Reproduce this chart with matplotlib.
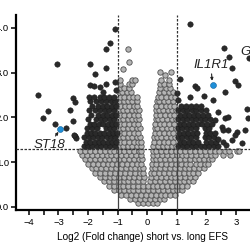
import numpy as np
import matplotlib.pyplot as plt
from matplotlib import font_manager

# grey (not significant) points, written row by row: (log10 p, [log2 fold changes])
gray_below_rows = [
    (0.08, [-0.30, -0.14, 0.02, 0.18, 0.33]),
    (0.17, [-0.58, -0.42, -0.25, -0.08, 0.09, 0.26, 0.42, 0.57]),
    (0.27, [-0.88, -0.72, -0.55, -0.38, -0.22, -0.05, 0.12, 0.28, 0.45, 0.61, 0.78, 0.92]),
    (0.37, [-1.12, -0.96, -0.80, -0.63, -0.47, -0.30, -0.14, 0.03, 0.20, 0.36, 0.53, 0.70, 0.86, 1.02, 1.16]),
    (0.47, [-1.30, -1.14, -0.97, -0.81, -0.64, -0.48, -0.31, -0.15, 0.01, 0.18, 0.34, 0.51, 0.67, 0.84,
            1.00, 1.17, 1.33]),
    (0.57, [-1.46, -1.30, -1.13, -0.97, -0.80, -0.64, -0.47, -0.31, -0.14, 0.10, 0.26, 0.43, 0.59, 0.76,
            0.92, 1.09, 1.25, 1.42, 1.55]),
    (0.67, [-1.60, -1.44, -1.27, -1.11, -0.94, -0.78, -0.61, -0.45, -0.28, -0.12, 0.13, 0.29, 0.46, 0.62,
            0.79, 0.95, 1.12, 1.28, 1.45, 1.62]),
    (0.77, [-1.75, -1.58, -1.42, -1.25, -1.09, -0.92, -0.76, -0.59, -0.43, -0.26, -0.14, 0.14, 0.24, 0.41,
            0.57, 0.74, 0.90, 1.07, 1.23, 1.40, 1.56, 1.73]),
    (0.87, [-1.88, -1.72, -1.55, -1.39, -1.22, -1.06, -0.89, -0.73, -0.56, -0.40, -0.24, -0.15, 0.15, 0.27,
            0.43, 0.60, 0.76, 0.93, 1.09, 1.26, 1.42, 1.59, 1.75, 1.90]),
    (0.97, [-2.00, -1.84, -1.67, -1.51, -1.34, -1.18, -1.01, -0.85, -0.68, -0.52, -0.35, -0.20, 0.17, 0.31,
            0.47, 0.64, 0.80, 0.97, 1.13, 1.30, 1.46, 1.63, 1.79, 1.96, 2.05]),
    (1.07, [-2.10, -1.94, -1.77, -1.61, -1.44, -1.28, -1.11, -0.95, -0.78, -0.62, -0.45, -0.29, -0.18, 0.18,
            0.28, 0.44, 0.61, 0.77, 0.94, 1.10, 1.27, 1.43, 1.60, 1.76, 1.93, 2.09, 2.18]),
    (1.17, [-2.20, -2.03, -1.87, -1.70, -1.54, -1.37, -1.21, -1.04, -0.88, -0.71, -0.55, -0.38, -0.22, 0.19,
            0.33, 0.50, 0.66, 0.83, 0.99, 1.16, 1.32, 1.49, 1.65, 1.82, 1.98, 2.15, 2.29, 2.55, 2.78]),
    (1.26, [-2.26, -2.10, -1.93, -1.77, -1.60, -1.44, -1.27, -1.11, -0.94, -0.78, -0.61, -0.45, -0.28, -0.20,
            0.21, 0.30, 0.46, 0.63, 0.79, 0.96, 1.12, 1.29, 1.45, 1.62, 1.78, 1.95, 2.11, 2.28, 2.42,
            2.62, 2.75, 3.02, 3.10]),
]
gray_between_rows = [
    (1.36, [-0.97, -0.82, -0.66, -0.50, -0.35, -0.21, 0.21, 0.36, 0.52, 0.67, 0.83, 0.96]),
    (1.46, [-0.93, -0.77, -0.61, -0.45, -0.30, -0.22, 0.23, 0.39, 0.55, 0.71, 0.87]),
    (1.56, [-0.97, -0.82, -0.66, -0.50, -0.36, -0.23, 0.24, 0.32, 0.48, 0.63, 0.79, 0.95]),
    (1.66, [-0.93, -0.77, -0.61, -0.45, -0.30, 0.25, 0.40, 0.56, 0.72, 0.88]),
    (1.76, [-0.97, -0.82, -0.66, -0.50, -0.36, -0.25, 0.26, 0.34, 0.49, 0.65, 0.81, 0.96]),
    (1.86, [-0.93, -0.77, -0.61, -0.45, -0.30, 0.27, 0.42, 0.58, 0.74, 0.89]),
    (1.96, [-0.97, -0.82, -0.66, -0.51, -0.37, -0.27, 0.28, 0.36, 0.51, 0.67, 0.83, 0.96]),
    (2.06, [-0.93, -0.77, -0.61, -0.46, -0.32, 0.29, 0.44, 0.60, 0.76, 0.90]),
    (2.16, [-0.97, -0.82, -0.67, -0.52, -0.38, -0.29, 0.30, 0.38, 0.53, 0.69, 0.85, 0.96]),
    (2.26, [-0.92, -0.76, -0.60, -0.45, -0.33, 0.31, 0.46, 0.62, 0.78, 0.91]),
    (2.36, [-0.96, -0.80, -0.64, -0.50, -0.35, 0.32, 0.40, 0.55, 0.71, 0.87]),
    (2.46, [-0.93, -0.77, -0.62, -0.47, -0.36, 0.36, 0.48, 0.63, 0.79, 0.92]),
    (2.56, [-0.97, -0.84, -0.70, -0.55, 0.40, 0.57, 0.72, 0.86]),
    (2.66, [-0.93, -0.78, -0.62, 0.44, 0.63, 0.78]),
    (2.75, [-0.91, -0.63, -0.50, 0.44, 0.55, 0.72]),
    (2.83, [-0.91, -0.52, -0.40, 0.48, 0.72]),
]
gray_top_x = [-0.82, -0.61, -0.66, 0.44, 0.61, 0.81]
gray_top_y = [3.08, 3.24, 3.54, 3.02, 2.95, 3.01]

# dark (significant) points
dark_left_rows = [
    (1.36, [-2.15, -2.00, -1.85, -1.70, -1.55, -1.40, -1.25, -1.10]),
    (1.46, [-2.08, -1.93, -1.78, -1.63, -1.48, -1.33, -1.18, -1.04]),
    (1.56, [-2.12, -1.97, -1.82, -1.67, -1.52, -1.37, -1.22, -1.08]),
    (1.66, [-2.05, -1.90, -1.75, -1.60, -1.45, -1.30, -1.15, -1.03]),
    (1.76, [-2.02, -1.86, -1.71, -1.41, -1.26, -1.11]),
    (1.86, [-1.95, -1.79, -1.64, -1.49, -1.34, -1.19, -1.05]),
    (1.96, [-2.00, -1.72, -1.57, -1.42, -1.27, -1.12]),
    (2.06, [-1.90, -1.65, -1.50, -1.35, -1.20, -1.06]),
    (2.16, [-1.98, -1.78, -1.58, -1.43, -1.28, -1.13]),
    (2.26, [-1.85, -1.66, -1.51, -1.36, -1.18, -1.04]),
    (2.36, [-1.95, -1.72, -1.55, -1.40, -1.22, -1.08]),
    (2.46, [-1.98, -1.80, -1.60, -1.45, -1.30, -1.12]),
]
dark_right_rows = [
    (1.36, [1.05, 1.20, 1.35, 1.50, 1.65, 1.80, 1.95, 2.10, 2.25, 2.40]),
    (1.46, [1.10, 1.25, 1.40, 1.55, 1.70, 2.00, 2.15, 2.32]),
    (1.56, [1.04, 1.19, 1.34, 1.49, 1.64, 1.94, 2.09, 2.24]),
    (1.66, [1.08, 1.23, 1.38, 1.53, 1.68, 1.98, 2.13, 2.30]),
    (1.76, [1.03, 1.18, 1.33, 1.48, 1.63, 1.95, 2.10]),
    (1.86, [1.10, 1.25, 1.40, 1.55, 1.70, 1.85, 2.02, 2.20]),
    (1.96, [1.05, 1.20, 1.35, 1.50, 1.65, 1.80, 1.95, 2.12]),
    (2.06, [1.12, 1.27, 1.42, 1.57, 1.72, 1.88, 2.05]),
    (2.16, [1.05, 1.20, 1.35, 1.50, 1.66, 1.82, 2.00]),
    (2.26, [1.15, 1.32, 1.48, 1.63, 1.80]),
]
dark_scatter_x = [-3.70, -3.34, -3.52, -3.12, -2.74, -2.50, -2.45, -2.62, -2.52, -2.45, -2.42, -2.49,
                  -1.93, -1.79, -1.61, -1.39, -1.10, -1.76, -1.38, -1.93, -3.06, -1.38, -1.27, -1.08,
                  -1.05, -1.50,
                  1.45, 2.60, 2.76, 2.87, 2.96, 3.07, 1.09, 1.62, 1.67, 1.90, 1.45, 2.23, 2.63,
                  2.40, 2.63, 2.74, 3.36, 3.40, 2.74, 3.02, 2.96, 3.30, 2.51, 2.57, 2.29, 2.39,
                  2.55, 2.86, 3.20, 2.65, 1.05, 1.02, 3.42]
dark_scatter_y = [2.50, 2.14, 1.98, 1.85, 1.76, 2.43, 2.35, 2.17, 1.92, 1.59, 1.54, 1.60,
                  2.72, 2.70, 2.69, 2.74, 2.79, 2.98, 3.11, 3.19, 3.19, 3.52, 3.67, 3.97,
                  2.62, 2.58,
                  4.08, 3.56, 3.36, 3.10, 2.81, 2.72, 2.86, 2.70, 2.65, 2.48, 2.46, 2.39, 2.57,
                  2.13, 1.98, 2.02, 2.20, 1.99, 1.72, 1.68, 1.61, 1.72, 1.79, 1.72, 1.94, 1.52,
                  1.45, 1.50, 1.42, 1.38, 2.40, 2.55, 3.33]

genes = ['ST18', 'IL1R1']
gene_x = [-2.95, 2.21]
gene_y = [1.74, 2.72]

fc_cut = 1.0
p_cut = 1.3
x_ticks = [-4, -3, -2, -1, 0, 1, 2, 3]
y_ticks = [0, 1, 2, 3, 4]


def flatten(rows):
    xs, ys = [], []
    for y, row in rows:
        xs += row
        ys += [y] * len(row)
    return np.array(xs), np.array(ys)


available = {f.name for f in font_manager.fontManager.ttflist}
narrow = 'Liberation Sans Narrow' in available
plt.rcParams['font.family'] = ['Liberation Sans', 'DejaVu Sans']

fig = plt.figure(figsize=(2.5, 2.5), dpi=100)
ax = fig.add_axes([15.5 / 250, 40.5 / 250, 265 / 250, 194.5 / 250])
xlim = (-4.45, 4.5)
ylim = (-0.056, 4.29)

gx1, gy1 = flatten(gray_below_rows)
gx2, gy2 = flatten(gray_between_rows)
gx = np.concatenate([gx1, gx2, gray_top_x])
gy = np.concatenate([gy1, gy2, gray_top_y])
ax.scatter(gx, gy, s=15, c='#b4b4b4', edgecolors='#4e4e4e', linewidths=0.6, zorder=2)

dx1, dy1 = flatten(dark_left_rows)
dx2, dy2 = flatten(dark_right_rows)
dx = np.concatenate([dx1, dx2, dark_scatter_x])
dy = np.concatenate([dy1, dy2, dark_scatter_y])
ax.scatter(dx, dy, s=15, c='#2a2a2a', edgecolors='#1a1a1a', linewidths=0.4, zorder=3)

for name, x, y in zip(genes, gene_x, gene_y):
    ax.scatter(x, y, s=18, c='#1f8fd8', edgecolors='#11609a', linewidths=0.4, zorder=4)

# threshold lines
dash = (0, (2.0, 1.2))
ax.axhline(p_cut, color='#333333', lw=0.9, ls=dash, zorder=5)
for v in (-fc_cut, fc_cut):
    ax.vlines(v, p_cut, ylim[1], color='#333333', lw=0.9, linestyles=[dash], zorder=5)
    ax.vlines(v, ylim[0], p_cut, color='#444444', lw=0.9, zorder=5)

# gene labels
lab = dict(fontsize=9.5, style='italic', color='#222222', zorder=6)
ax.annotate(genes[1], xy=(2.19, 2.82), xytext=(2.15, 3.17), ha='center', va='center',
            arrowprops=dict(arrowstyle='-|>', color='#222222', lw=0.8, mutation_scale=4,
                            shrinkA=5, shrinkB=0), **lab)
ax.annotate(genes[0], xy=(-3.0, 1.68), xytext=(-3.31, 1.39), ha='center', va='center',
            arrowprops=dict(arrowstyle='-|>', color='#222222', lw=0.8, mutation_scale=4,
                            shrinkA=6, shrinkB=0), **lab)
ax.text(3.15, 3.46, 'G', ha='left', va='center', **lab)

ax.set_xlim(*xlim)
ax.set_ylim(*ylim)
ax.set_xticks(x_ticks)
ax.set_xticklabels([f'{t}'.replace('-', '\u2212') for t in x_ticks])
ax.set_xticks(np.array(x_ticks) + 0.5, minor=True)
ax.set_yticks(y_ticks)
ax.set_yticklabels([f'{t:.1f}' for t in y_ticks])

for s in ('top', 'right'):
    ax.spines[s].set_visible(False)
for s in ('left', 'bottom'):
    ax.spines[s].set_linewidth(1.6)
ax.tick_params(which='both', length=3.8, width=1.1, labelsize=6.8, pad=2.5, color='black')
ax.tick_params(axis='y', pad=0.8)

if narrow:
    ax.set_xlabel('Log2 (Fold change) short vs. long EFS', fontsize=8.5,
                  fontfamily=['Liberation Sans Narrow', 'DejaVu Sans'])
else:
    ax.set_xlabel('Log2 (Fold change) short vs. long EFS', fontsize=7.2)
ax.xaxis.set_label_coords((142.5 - 15.5) / 265, (209.5 - 237) / 194.5)
ax.xaxis.label.set_va('center')

fig.savefig('out.png', dpi=100)
